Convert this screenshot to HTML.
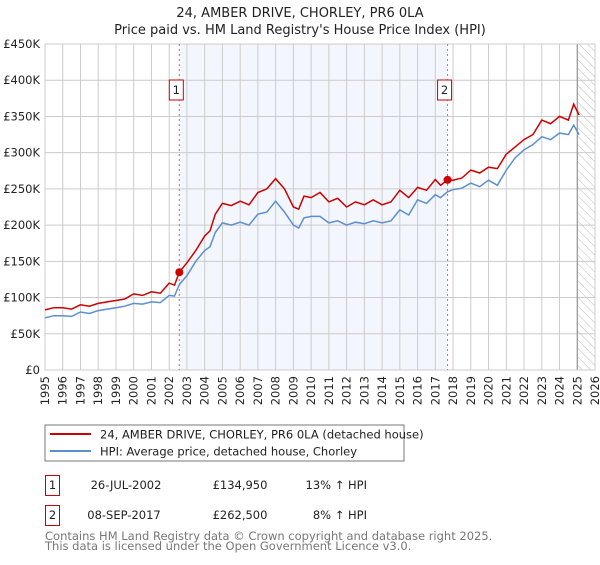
<!DOCTYPE html>
<html><head><meta charset="utf-8"><style>
body{margin:0;background:#fff;}
svg{font-family:"DejaVu Sans","Liberation Sans",sans-serif;}
</style></head><body>
<svg id="c" width="600" height="560" xmlns="http://www.w3.org/2000/svg">
<defs><pattern id="hatch" width="6" height="6" patternUnits="userSpaceOnUse" patternTransform="rotate(-45)"><line x1="0" y1="0" x2="0" y2="6" stroke="#bbb" stroke-width="1"/></pattern></defs>
<text x="300" y="17" text-anchor="middle" font-size="13" fill="#222">24, AMBER DRIVE, CHORLEY, PR6 0LA</text>
<text x="300" y="34" text-anchor="middle" font-size="13" fill="#222">Price paid vs. HM Land Registry's House Price Index (HPI)</text>
<g id="plot"></g>
<rect x="45" y="425" width="359" height="36" fill="#fff" stroke="#777"/>
<line x1="50" y1="434" x2="91" y2="434" stroke="#cc0000" stroke-width="2"/>
<text x="100" y="438.5" font-size="11.5" fill="#222">24, AMBER DRIVE, CHORLEY, PR6 0LA (detached house)</text>
<line x1="50" y1="451" x2="91" y2="451" stroke="#5b8fd0" stroke-width="2"/>
<text x="100" y="455.5" font-size="11.5" fill="#222">HPI: Average price, detached house, Chorley</text>
<g font-size="11.5" fill="#222">
<rect x="45.5" y="475.5" width="14" height="20" fill="#fff" stroke="#cc0000"/>
<text x="52.5" y="489" text-anchor="middle">1</text>
<text x="126" y="489" text-anchor="middle">26-JUL-2002</text>
<text x="240" y="489" text-anchor="middle">£134,950</text>
<text x="367" y="489" text-anchor="end">13% ↑ HPI</text>
<rect x="45.5" y="505.5" width="14" height="20" fill="#fff" stroke="#cc0000"/>
<text x="52.5" y="519" text-anchor="middle">2</text>
<text x="124" y="519" text-anchor="middle">08-SEP-2017</text>
<text x="240" y="519" text-anchor="middle">£262,500</text>
<text x="367" y="519" text-anchor="end">8% ↑ HPI</text>
</g>
<text x="45" y="540" font-size="11.5" fill="#777">Contains HM Land Registry data © Crown copyright and database right 2025.</text>
<text x="45" y="550" font-size="11.5" fill="#777">This data is licensed under the Open Government Licence v3.0.</text>
</svg>
<script>
const times=[1995,1995.5,1996,1996.5,1997,1997.5,1998,1998.5,1999,1999.5,2000,2000.5,2001,2001.5,2002,2002.3,2002.57,2003,2003.5,2004,2004.3,2004.6,2005,2005.5,2006,2006.5,2007,2007.5,2008,2008.5,2009,2009.3,2009.6,2010,2010.5,2011,2011.5,2012,2012.5,2013,2013.5,2014,2014.5,2015,2015.5,2016,2016.5,2017,2017.3,2017.69,2018,2018.5,2019,2019.5,2020,2020.5,2021,2021.5,2022,2022.5,2023,2023.5,2024,2024.5,2024.8,2025.1];
const propertyValues=[83,86,86,84,90,88,92,94,96,98,105,103,108,106,120,117,135,148,165,185,192,215,230,227,233,228,245,250,264,250,225,222,240,238,245,232,237,225,232,228,235,228,232,248,238,252,248,263,255,262.5,262,265,276,272,280,278,298,308,318,325,345,340,350,345,367,352];
const hpiValues=[72,75,75,74,80,78,82,84,86,88,92,91,94,93,103,102,118,130,150,165,170,190,203,200,204,200,215,218,233,218,200,196,210,212,212,203,206,200,204,202,206,203,206,221,214,235,230,242,238,246,249,251,258,253,262,255,276,293,304,311,322,318,327,325,338,325];
const saleTimes=[2002.57,2017.69];
const saleValues=[134.95,262.5];
const saleLabels=["1","2"];
const yTicks=[0,50,100,150,200,250,300,350,400,450];
const yTickLabels=["£0","£50K","£100K","£150K","£200K","£250K","£300K","£350K","£400K","£450K"];
const xTicks=[1995,1996,1997,1998,1999,2000,2001,2002,2003,2004,2005,2006,2007,2008,2009,2010,2011,2012,2013,2014,2015,2016,2017,2018,2019,2020,2021,2022,2023,2024,2025,2026];

const X0=45,X1=595,Y0=370,Y1=44;
const xs=t=>X0+(t-1995)/(2026-1995)*(X1-X0);
const ys=v=>Y0-v/450*(Y0-Y1);
const NS="http://www.w3.org/2000/svg";
const g=document.getElementById('plot');
function mk(tag,attrs){const e=document.createElementNS(NS,tag);for(const k in attrs)e.setAttribute(k,attrs[k]);g.appendChild(e);return e;}

let e=mk('rect',{x:xs(saleTimes[0]),y:Y1,width:xs(saleTimes[1])-xs(saleTimes[0]),height:Y0-Y1,fill:'#f3f6fd'});


e=mk('rect',{x:xs(2025),y:Y1,width:X1-xs(2025),height:Y0-Y1,fill:'url(#hatch)'});


xTicks.forEach(t=>{
  let l=mk('line',{x1:xs(t),x2:xs(t),y1:Y1,y2:Y0,stroke:'#ccc','stroke-width':1});
  
  
  let tx=mk('text',{x:0,y:0,'font-size':11.5,fill:'#222','text-anchor':'end',transform:`translate(${xs(t)+4},376) rotate(-90)`});
  tx.textContent=t;
  
  
});
yTicks.forEach((v,i)=>{
  let l=mk('line',{x1:X0,x2:X1,y1:ys(v),y2:ys(v),stroke:'#ccc','stroke-width':1});
  
  
  let tx=mk('text',{x:40,y:ys(v)+4,'font-size':11.5,fill:'#222','text-anchor':'end'});
  tx.textContent=yTickLabels[i];
  
  
});
e=mk('line',{x1:xs(2025),x2:xs(2025),y1:Y1,y2:Y0,stroke:'#888','stroke-width':1});


e=mk('rect',{x:X0,y:Y1,width:X1-X0,height:Y0-Y1,fill:'none',stroke:'#ccc'});


saleTimes.forEach((t,i)=>{
  let l=mk('line',{x1:xs(t),x2:xs(t),y1:Y1,y2:Y0,stroke:'#f06060','stroke-width':1,'stroke-dasharray':'2,3'});
  
  
  let r=mk('rect',{x:xs(t)-10,y:80,width:14,height:20,fill:'#fff',stroke:'#cc0000'});
  
  
  let tx=mk('text',{x:xs(t)-3,y:94,'font-size':11.5,fill:'#222','text-anchor':'middle'});
  tx.textContent=saleLabels[i];
  
  
});
const pts=a=>a.map((v,i)=>xs(times[i]).toFixed(1)+','+ys(v).toFixed(1)).join(' ');
e=mk('polyline',{points:pts(hpiValues),fill:'none',stroke:'#5b8fd0','stroke-width':1.5});


e=mk('polyline',{points:pts(propertyValues),fill:'none',stroke:'#cc0000','stroke-width':1.5});


saleTimes.forEach((t,i)=>{
  let c=mk('circle',{cx:xs(t),cy:ys(saleValues[i]),r:4,fill:'#cc0000'});
  
  
});
</script>
</body></html>
